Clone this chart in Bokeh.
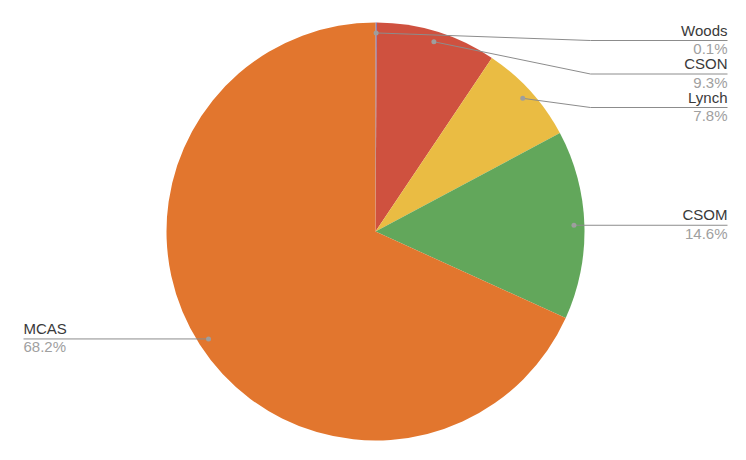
import numpy as np
from bokeh.plotting import figure
from bokeh.models import Range1d
from bokeh.embed import file_html
from bokeh.resources import INLINE
from bokeh.core.properties import value

categories = ["Woods", "CSON", "Lynch", "CSOM", "MCAS"]
shares = [0.1, 9.3, 7.8, 14.6, 68.2]
pct_labels = ["0.1%", "9.3%", "7.8%", "14.6%", "68.2%"]
colors = ["#5a6fc6", "#cf513f", "#eabc43", "#62a75b", "#e2762e"]

W, H = 730, 444
p = figure(width=W, height=H, x_range=Range1d(0, W), y_range=Range1d(0, H),
           output_backend="svg", toolbar_location=None, min_border=0)
p.axis.visible = False
p.grid.visible = False
p.outline_line_color = None
p.background_fill_color = "white"

cx, cy, R = 375, 213, 209
frac = np.array(shares) / sum(shares)
cum = np.concatenate([[0], np.cumsum(frac)])
start = np.pi / 2 - 2 * np.pi * cum[:-1]
end = np.pi / 2 - 2 * np.pi * cum[1:]
p.wedge(x=cx, y=cy, radius=R, start_angle=list(start), end_angle=list(end),
        direction="clock", fill_color=colors, line_color=None)

mid = 2 * np.pi * (cum[:-1] + cum[1:]) / 2
dot_x = cx + 0.95 * R * np.sin(mid)
dot_y = cy + 0.95 * R * np.cos(mid)

font = value("Liberation Sans")
line_col = "#8c8c8c"
right_edge = 727
left_edge = 23
elbow_x = 590
prev = -1e9
for i, name in enumerate(categories):
    dx, dy = dot_x[i], dot_y[i]
    if np.sin(mid[i]) >= 0:
        down = H - dy
        ld = max(down, prev + 33.5, 40)
        prev = ld
        ly = H - ld
        if abs(ly - dy) > 0.5:
            p.line([dx, elbow_x, right_edge], [dy, ly, ly], line_color=line_col, line_width=1)
        else:
            p.line([dx, right_edge], [ly, ly], line_color=line_col, line_width=1)
        tx, align = right_edge, "right"
    else:
        ly = dy
        p.line([dx, left_edge], [ly, ly], line_color=line_col, line_width=1)
        tx, align = left_edge, "left"
    p.scatter([dx], [dy], size=5, fill_color="#9e9e9e", line_color=None)
    p.text([tx], [ly + 2], text=[name], text_align=align, text_baseline="bottom",
           text_font=font, text_font_size="15px", text_color="#3a3a3a")
    p.text([tx], [ly + 0.5], text=[pct_labels[i]], text_align=align, text_baseline="top",
           text_font=font, text_font_size="15px", text_color="#a0a0a0")

open("out.html", "w").write(file_html(p, INLINE))
